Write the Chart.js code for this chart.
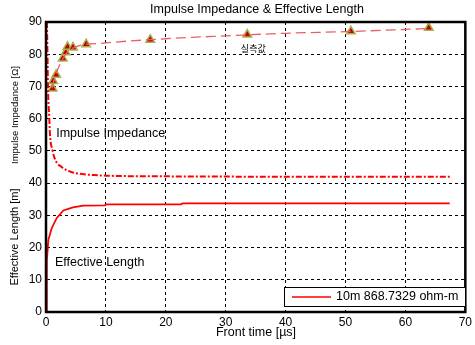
<!DOCTYPE html>
<html>
<head>
<meta charset="utf-8">
<script src="https://cdn.jsdelivr.net/npm/chart.js@4/dist/chart.umd.min.js"></script>
<style>
    body { margin: 0; background: #fff; }
</style>
</head>
<body>
<canvas id="chart" width="475" height="345"></canvas>
<script>
// Impulse impedance curve (dash-dot)
const impTime = [0.15, 0.25, 0.33, 0.55, 0.67, 1.1, 1.6, 2.6, 3.5, 4.5, 6, 8, 10, 20, 40, 67.4];
const impValue = [90, 80, 70, 60, 55, 50, 47, 45, 44, 43.3, 42.8, 42.5, 42.3, 42.1, 42, 42];

// Effective length curve (solid)
const lenTime = [0.1, 0.12, 0.15, 0.4, 0.95, 1.8, 2.9, 4.5, 6.2, 9.8, 10.1, 22.5, 22.8, 67.4];
const lenValue = [0, 10, 16, 22.4, 26, 29.2, 31.5, 32.5, 33, 33.1, 33.4, 33.4, 33.7, 33.7];

// Measured values (triangles)
const measTime = [1.1, 1.2, 1.7, 2.8, 3.3, 3.6, 4.5, 6.7, 17.4, 33.6, 50.9, 63.9];
const measValue = [69.4, 71.7, 73.6, 78.7, 80.6, 82.3, 82.1, 83.1, 84.5, 86.1, 87.1, 88.2];

// Fitted trend through the measured values (dashed)
const fitTime = [1.0, 1.5, 2.5, 3.5, 5, 10, 20, 30, 40, 50, 60, 64];
const fitValue = [69.5, 73, 77.5, 80.5, 82.3, 83.5, 84.8, 85.7, 86.5, 87.0, 87.7, 88.0];

const xTicks = [0, 10, 20, 30, 40, 50, 60, 70];
const yTicks = [0, 10, 20, 30, 40, 50, 60, 70, 80, 90];

const legendLabel = "10m 868.7329 ohm-m";
const FONT = "'Liberation Sans', Arial, sans-serif";

const toPoints = (xs, ys) => xs.map((x, i) => ({ x: x, y: ys[i] }));

// Draws title, axis titles, annotations, frame and legend box
const decorations = {
    id: "decorations",
    afterDraw(chart) {
        const ctx = chart.ctx;
        const area = chart.chartArea;
        const xs = chart.scales.x;
        const ys = chart.scales.y;
        ctx.save();

        // frame
        ctx.strokeStyle = "#000";
        ctx.lineWidth = 2.5;
        ctx.strokeRect(area.left, area.top, area.right - area.left, area.bottom - area.top);

        ctx.fillStyle = "#000";
        ctx.font = "12.5px " + FONT;
        ctx.textAlign = "center";
        ctx.textBaseline = "middle";
        ctx.fillText("Impulse Impedance & Effective Length", 257, 10);
        ctx.fillText("Front time [\u00b5s]", 256, 333);

        // two y axis titles
        ctx.save();
        ctx.font = "9.5px " + FONT;
        ctx.translate(15, 115);
        ctx.rotate(-Math.PI / 2);
        ctx.fillText("Impulse Impedance [\u03a9]", 0, 0);
        ctx.restore();
        ctx.save();
        ctx.font = "11px " + FONT;
        ctx.translate(15, 237);
        ctx.rotate(-Math.PI / 2);
        ctx.fillText("Effective Length [m]", 0, 0);
        ctx.restore();

        // curve labels
        ctx.textAlign = "left";
        ctx.fillText("Impulse Impedance", xs.getPixelForValue(1.7), ys.getPixelForValue(55.4));
        ctx.fillText("Effective Length", xs.getPixelForValue(1.5), ys.getPixelForValue(15.3));
        ctx.textAlign = "center";
        ctx.font = "9px 'Noto Sans CJK KR', sans-serif";
        ctx.fillText("실측값", xs.getPixelForValue(34.6), ys.getPixelForValue(81.6));

        // legend box
        const bx = 284, by = 287, bw = 181, bh = 19;
        ctx.fillStyle = "#fff";
        ctx.fillRect(bx, by, bw, bh);
        ctx.strokeStyle = "#000";
        ctx.lineWidth = 1;
        ctx.strokeRect(bx + 0.5, by + 0.5, bw, bh);
        ctx.strokeStyle = "#ff0000";
        ctx.lineWidth = 1.5;
        ctx.beginPath();
        ctx.moveTo(bx + 8, by + 10);
        ctx.lineTo(bx + 47, by + 10);
        ctx.stroke();
        ctx.fillStyle = "#000";
        ctx.font = "12.5px " + FONT;
        ctx.textAlign = "left";
        ctx.fillText(chart.data.datasets[0].label, bx + 52, by + 10);

        ctx.restore();
    }
};

new Chart(document.getElementById("chart"), {
    type: "scatter",
    data: {
        datasets: [
            {
                label: legendLabel,
                data: toPoints(lenTime, lenValue),
                showLine: true,
                borderColor: "#ff0000",
                borderWidth: 1.8,
                pointRadius: 0,
                tension: 0
            },
            {
                label: "Impulse Impedance",
                data: toPoints(impTime, impValue),
                showLine: true,
                borderColor: "#ff0000",
                borderWidth: 2,
                borderDash: [6, 2, 2, 2],
                pointRadius: 0,
                cubicInterpolationMode: "monotone"
            },
            {
                label: "fit",
                data: toPoints(fitTime, fitValue),
                showLine: true,
                borderColor: "#e86060",
                borderWidth: 1.3,
                borderDash: [10, 5],
                pointRadius: 0,
                cubicInterpolationMode: "monotone"
            },
            {
                label: "실측값",
                data: toPoints(measTime, measValue),
                showLine: false,
                pointStyle: "triangle",
                pointRadius: 5,
                backgroundColor: "#c00000",
                borderColor: "#a8b050",
                borderWidth: 1.5
            }
        ]
    },
    options: {
        responsive: false,
        animation: false,
        layout: { padding: { top: 22, right: 8, left: 0, bottom: 0 } },
        plugins: {
            legend: { display: false },
            title: { display: false },
            tooltip: { enabled: false }
        },
        scales: {
            x: {
                type: "linear",
                min: 0,
                max: 70,
                afterFit: scale => { scale.height = 33; },
                afterBuildTicks: scale => { scale.ticks = xTicks.map(v => ({ value: v })); },
                grid: { color: "#000", drawTicks: false },
                border: { display: true, color: "#000", dash: [3, 3] },
                ticks: { color: "#000", font: { family: FONT, size: 12 }, padding: 3 }
            },
            y: {
                type: "linear",
                min: 0,
                max: 90,
                afterFit: scale => { scale.width = 46; },
                afterBuildTicks: scale => { scale.ticks = yTicks.map(v => ({ value: v })); },
                grid: { color: "#000", drawTicks: false },
                border: { display: true, color: "#000", dash: [3, 3] },
                ticks: { color: "#000", font: { family: FONT, size: 12 }, padding: 4 }
            }
        }
    },
    plugins: [decorations]
});
</script>
</body>
</html>
